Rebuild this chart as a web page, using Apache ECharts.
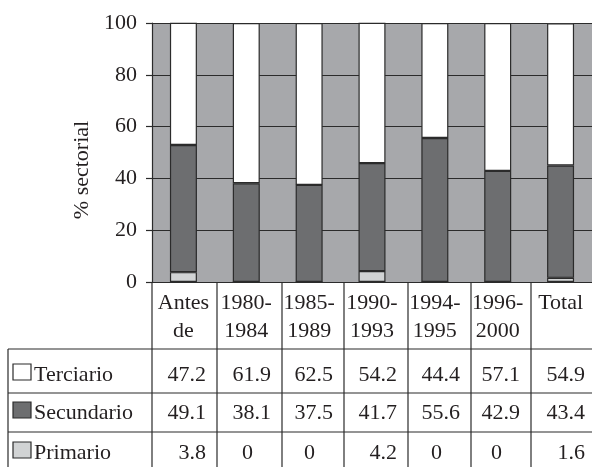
<!DOCTYPE html>
<html>
<head>
<meta charset="utf-8">
<script src="https://cdn.jsdelivr.net/npm/echarts@6/dist/echarts.min.js"></script>
<style>
  html, body { margin: 0; padding: 0; background: #ffffff; }
  #chart { width: 592px; height: 467px; }
</style>
</head>
<body>
<div id="chart"></div>
<script>
// Periods (column headers of the table and bar categories)
const categories = ['Antes\nde', '1980-\n1984', '1985-\n1989', '1990-\n1993', '1994-\n1995', '1996-\n2000', 'Total'];
// Sector shares, % of firms per period
const terciario  = [47.2, 61.9, 62.5, 54.2, 44.4, 57.1, 54.9];
const secundario = [49.1, 38.1, 37.5, 41.7, 55.6, 42.9, 43.4];
const primario   = [3.8, 0, 0, 4.2, 0, 0, 1.6];
// Value axis
const yMin = 0, yMax = 100, yStep = 20;
const yAxisTitle = '% sectorial';
const rowNames = ['Terciario', 'Secundario', 'Primario'];

// Styling
const FONT = 'Liberation Serif';
const FS = 22;
const INK = '#231f20';
const BG_GRAY = '#a7a8ab';
const DARK = '#6d6e70';
const LIGHT = '#d1d3d4';
const EDGE = '#2b2b2b';

// Table layout
const colEdges = [152, 217, 282, 344, 408, 471, 531, 596];
const tableTop = 282, headerBottom = 349, rowLines = [349, 393, 432], tableBottom = 467;
const tableLeft = 8;
const rowTextY = [375, 413, 453];
const rowColors = ['#ffffff', DARK, LIGHT];
const rowValues = [terciario, secundario, primario];

const chart = echarts.init(document.getElementById('chart'), null, { renderer: 'canvas' });

function barSeries(name, data, color) {
  return {
    name: name,
    type: 'bar',
    stack: 'sector',
    data: data,
    barWidth: 27,
    clip: false,
    itemStyle: { color: color, borderColor: EDGE, borderWidth: 1.2 },
    emphasis: { disabled: true },
    animation: false
  };
}

function textStyle(text, align) {
  return { text: text, fontFamily: FONT, fontSize: FS, fill: INK, align: align, verticalAlign: 'middle' };
}

const graphics = [];

// y-axis title
graphics.push({
  type: 'text', x: 82, y: 170, rotation: Math.PI / 2,
  style: textStyle(yAxisTitle, 'center'),
  z: 10
});

const lineStyle = { stroke: EDGE, lineWidth: 1.2 };
// table horizontal rules
rowLines.forEach(function (y) {
  graphics.push({ type: 'line', shape: { x1: tableLeft, y1: y, x2: 592, y2: y }, style: lineStyle, z: 10 });
});
// table vertical rules
graphics.push({ type: 'line', shape: { x1: tableLeft, y1: headerBottom, x2: tableLeft, y2: tableBottom }, style: lineStyle, z: 10 });
colEdges.forEach(function (x) {
  graphics.push({ type: 'line', shape: { x1: x, y1: tableTop, x2: x, y2: tableBottom }, style: lineStyle, z: 10 });
});

// row labels with swatches, and values
rowNames.forEach(function (name, r) {
  const ty = rowTextY[r];
  graphics.push({
    type: 'rect', shape: { x: 13, y: ty - 3 - 8, width: 18, height: 16 },
    style: { fill: rowColors[r], stroke: EDGE, lineWidth: 1.2 }, z: 10
  });
  graphics.push({ type: 'text', x: 34, y: ty, style: textStyle(name, 'left'), z: 10 });
  rowValues[r].forEach(function (v, c) {
    const right = colEdges[c + 1] - 11;
    const isInt = Number.isInteger(v);
    graphics.push({
      type: 'text', x: isInt ? right - 18 : right, y: ty,
      style: textStyle(isInt ? String(v) : v.toFixed(1), 'right'),
      z: 10
    });
  });
});

chart.setOption({
  animation: false,
  grid: { left: 152, right: -4, top: 23, bottom: 185, show: true, backgroundColor: BG_GRAY, borderWidth: 0 },
  xAxis: {
    type: 'category',
    data: categories,
    axisLine: { show: true, lineStyle: { color: EDGE, width: 1.2 } },
    axisTick: { show: false },
    axisLabel: { fontFamily: FONT, fontSize: FS, lineHeight: 28, color: INK, margin: 7, interval: 0 },
    splitLine: { show: false }
  },
  yAxis: {
    type: 'value',
    min: yMin, max: yMax, interval: yStep,
    axisLine: { show: true, lineStyle: { color: EDGE, width: 1.2 } },
    axisTick: { show: true, length: 6, lineStyle: { color: EDGE, width: 1.2 } },
    axisLabel: { fontFamily: FONT, fontSize: FS, color: INK, margin: 15 },
    splitLine: { show: true, lineStyle: { color: EDGE, width: 1.2 } }
  },
  series: [
    barSeries('Primario', primario, LIGHT),
    barSeries('Secundario', secundario, DARK),
    barSeries('Terciario', terciario, '#ffffff')
  ],
  graphic: graphics
});
</script>
</body>
</html>
